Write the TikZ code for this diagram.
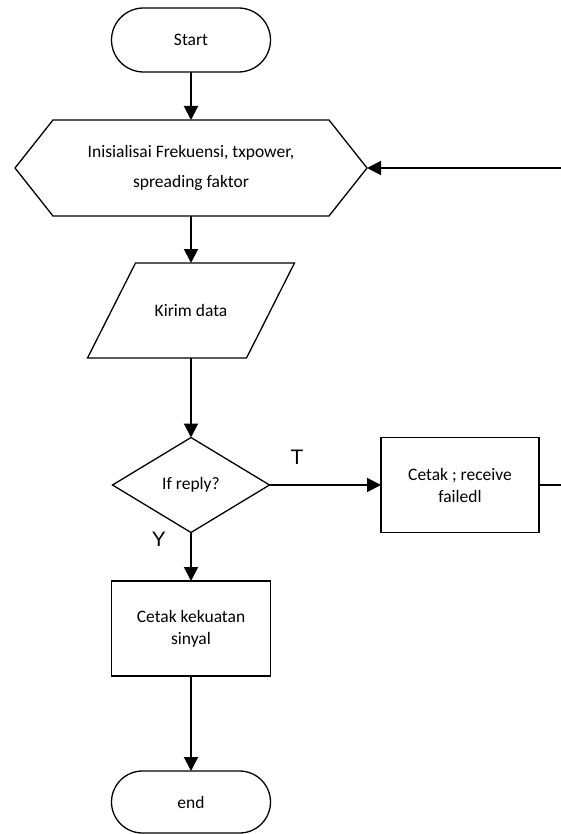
\documentclass[tikz,border=0pt]{standalone}
\usepackage{fontspec}
\setmainfont{Carlito}
\newfontfamily\labelfont{Liberation Sans}
\usetikzlibrary{shapes.misc,shapes.geometric,arrows.meta,calc}
\begin{document}
\begin{tikzpicture}[x=1pt,y=-1pt,
  outline/.style={draw=black,line width=1.3pt,line join=miter},
  plain/.style={inner sep=0pt,outer sep=0pt,align=center,font=\fontsize{17.5}{22}\selectfont},
  conn/.style={line width=2pt,-{Triangle[length=14pt,width=14pt]}},
  lbl/.style={font=\labelfont\fontsize{21}{24}\selectfont,inner sep=0pt}]
\useasboundingbox (0,0) rectangle (561,834);
\clip (0,0) rectangle (561,834);
% nodes
\node[plain,outline,rounded rectangle,minimum width=159pt,minimum height=64pt] (start) at (191,40) {Start};
\node[plain,minimum width=352pt,minimum height=96pt] (hex) at (191,168) {Inisialisai Frekuensi, txpower,\\[8pt]spreading faktor};
\draw[outline] (hex.west) -- ($(hex.north west)+(38,0)$) -- ($(hex.north east)+(-38,0)$) -- (hex.east) -- ($(hex.south east)+(-38,0)$) -- ($(hex.south west)+(38,0)$) -- cycle;
\node[plain,minimum width=207pt,minimum height=95pt] (kirim) at (191,310.5) {Kirim data};
\draw[outline] ($(kirim.north west)+(48,0)$) -- (kirim.north east) -- ($(kirim.south east)+(-48,0)$) -- (kirim.south west) -- cycle;
\node[plain,outline,diamond,minimum width=157pt,minimum height=95pt] (dec) at (191,485) {If reply?};
\node[plain,outline,rectangle,minimum width=158pt,minimum height=95pt] (fail) at (460,485) {Cetak ; receive\\failedl};
\node[plain,outline,rectangle,minimum width=159pt,minimum height=95pt] (sinyal) at (191,628.5) {Cetak kekuatan\\sinyal};
\node[plain,outline,rounded rectangle,minimum width=159pt,minimum height=62pt] (end) at (191,802) {end};
% labels
\node[lbl] (tlab) at (297,457) {T};
\node[lbl] (ylab) at (159,539) {Y};
% connectors
\draw[conn] (start.south) -- (hex.north);
\draw[conn] (hex.south) -- (kirim.north);
\draw[conn] (kirim.south) -- (dec.north);
\draw[conn] (dec.east) -- (fail.west);
\draw[conn] (dec.south) -- (sinyal.north);
\draw[conn] (sinyal.south) -- (end.north);
\draw[conn] (fail.east) -- ++(40,0) |- (hex.east);
\end{tikzpicture}
\end{document}
